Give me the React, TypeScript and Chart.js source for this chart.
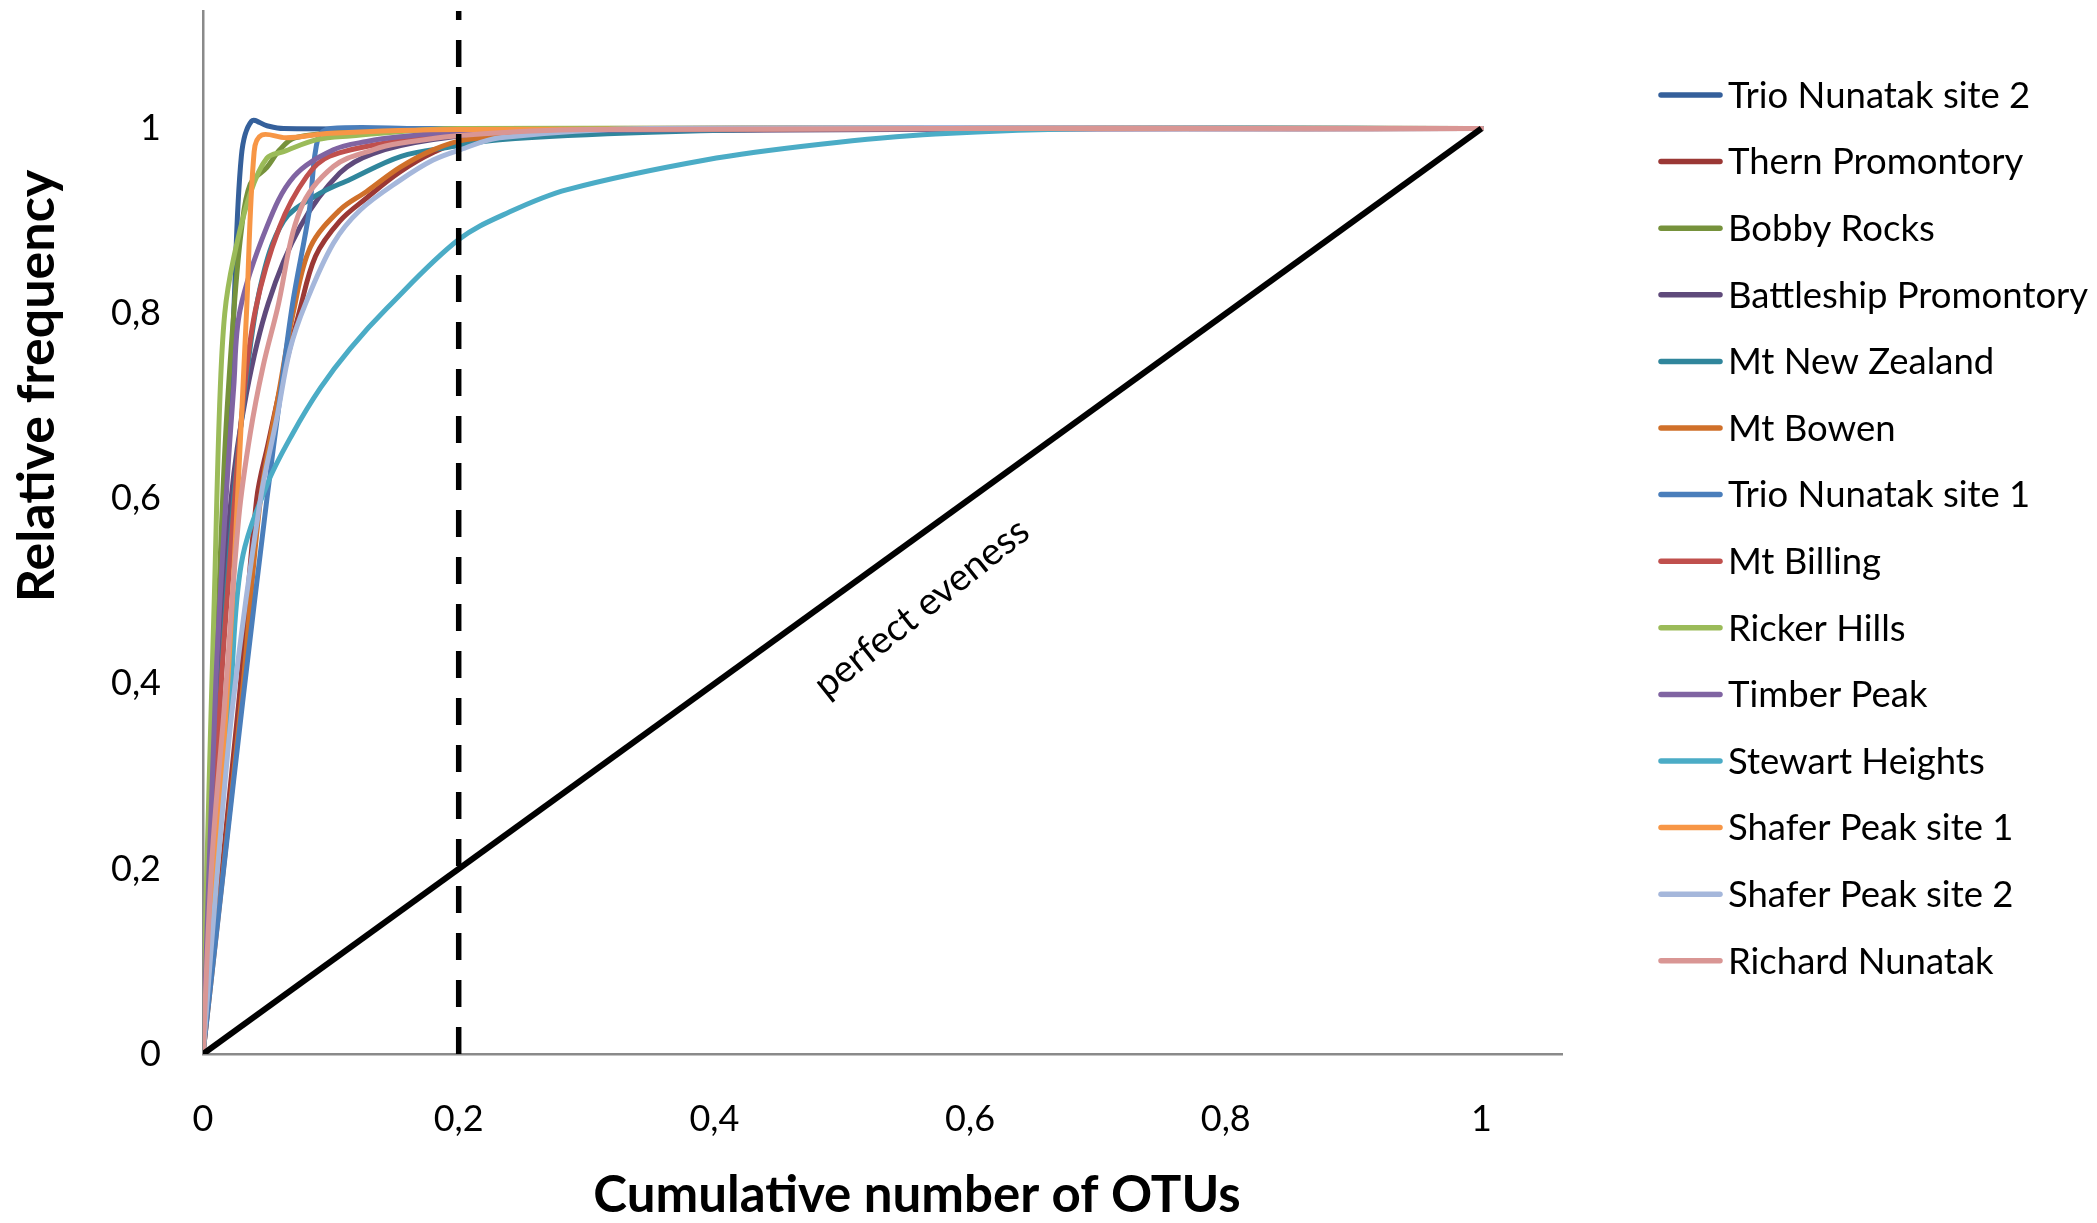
import React, { useEffect, useRef } from 'react';
import { Chart, registerables } from 'chart.js';

Chart.register(...registerables);

// ---- data ----
const seriesNames = [
  'Trio Nunatak site 2',
  'Thern Promontory',
  'Bobby Rocks',
  'Battleship Promontory',
  'Mt New Zealand',
  'Mt Bowen',
  'Trio Nunatak site 1',
  'Mt Billing',
  'Ricker Hills',
  'Timber Peak',
  'Stewart Heights',
  'Shafer Peak site 1',
  'Shafer Peak site 2',
  'Richard Nunatak',
];

const seriesColors = [
  '#35609B',
  '#9B3835',
  '#76923C',
  '#5F4A7B',
  '#30869C',
  '#D0702A',
  '#4A7EBB',
  '#C0504D',
  '#9BBB59',
  '#8064A2',
  '#4BACC6',
  '#F79646',
  '#A5B7DB',
  '#D99694',
];

type Pt = [number, number];

const trioNunatakSite2: Pt[] = [[0, 0], [0.008, 0.28], [0.016, 0.55], [0.024, 0.8], [0.03, 0.97], [0.038, 1.008], [0.05, 1.003], [0.063, 1.0], [0.2, 1.0], [1, 1]];
const thernPromontory: Pt[] = [[0, 0], [0.028, 0.38], [0.042, 0.6], [0.051, 0.66], [0.063, 0.735], [0.075, 0.8], [0.088, 0.862], [0.107, 0.9], [0.128, 0.925], [0.154, 0.953], [0.18, 0.974], [0.206, 0.987], [0.3, 0.998], [1, 1]];
const bobbyRocks: Pt[] = [[0, 0], [0.01, 0.4], [0.017, 0.65], [0.024, 0.8], [0.03, 0.89], [0.037, 0.94], [0.05, 0.958], [0.06, 0.977], [0.072, 0.99], [0.12, 0.997], [0.2, 1], [1, 1]];
const battleshipPromontory: Pt[] = [[0, 0], [0.012, 0.4], [0.022, 0.6], [0.034, 0.714], [0.051, 0.811], [0.076, 0.894], [0.107, 0.952], [0.133, 0.973], [0.18, 0.988], [0.25, 0.997], [1, 1]];
const mtNewZealand: Pt[] = [[0, 0], [0.014, 0.4], [0.024, 0.6], [0.033, 0.72], [0.045, 0.83], [0.063, 0.9], [0.089, 0.928], [0.115, 0.945], [0.155, 0.97], [0.193, 0.98], [0.232, 0.988], [0.35, 0.996], [0.5, 1], [1, 1]];
const mtBowen: Pt[] = [[0, 0], [0.03, 0.38], [0.045, 0.6], [0.06, 0.72], [0.071, 0.804], [0.084, 0.872], [0.107, 0.912], [0.128, 0.932], [0.154, 0.958], [0.18, 0.977], [0.206, 0.988], [0.3, 0.999], [1, 1]];
const trioNunatakSite1: Pt[] = [[0, 0], [0.017, 0.21], [0.031, 0.38], [0.05, 0.6], [0.06, 0.707], [0.07, 0.81], [0.083, 0.91], [0.09, 0.99], [0.1, 1], [0.17, 1], [1, 1]];
const mtBilling: Pt[] = [[0, 0], [0.012, 0.35], [0.022, 0.55], [0.031, 0.7], [0.041, 0.804], [0.06, 0.894], [0.081, 0.948], [0.099, 0.97], [0.15, 0.986], [0.2, 0.995], [0.3, 1], [1, 1]];
const rickerHills: Pt[] = [[0, 0], [0.003, 0.2], [0.009, 0.5], [0.013, 0.7], [0.017, 0.8], [0.024, 0.86], [0.037, 0.93], [0.05, 0.968], [0.063, 0.975], [0.089, 0.988], [0.115, 0.992], [0.2, 1], [1, 1]];
const timberPeak: Pt[] = [[0, 0], [0.01, 0.4], [0.018, 0.6], [0.024, 0.72], [0.029, 0.804], [0.05, 0.894], [0.071, 0.948], [0.102, 0.977], [0.128, 0.986], [0.154, 0.991], [0.22, 0.998], [1, 1]];
const stewartHeights: Pt[] = [[0, 0], [0.008, 0.2], [0.021, 0.38], [0.03, 0.53], [0.05, 0.615], [0.07, 0.67], [0.092, 0.72], [0.115, 0.762], [0.144, 0.806], [0.2, 0.88], [0.24, 0.91], [0.285, 0.934], [0.393, 0.966], [0.483, 0.983], [0.573, 0.994], [0.7, 1.0], [1, 1]];
const shaferPeakSite1: Pt[] = [[0, 0], [0.0185, 0.38], [0.027, 0.6], [0.034, 0.8], [0.04, 0.975], [0.046, 0.993], [0.065, 0.99], [0.1, 0.995], [0.2, 0.999], [1, 1]];
const shaferPeakSite2: Pt[] = [[0, 0], [0.012, 0.21], [0.0235, 0.38], [0.045, 0.6], [0.058, 0.689], [0.068, 0.761], [0.08, 0.81], [0.102, 0.876], [0.123, 0.912], [0.154, 0.944], [0.18, 0.966], [0.201, 0.977], [0.232, 0.99], [0.35, 1], [1, 1]];
const richardNunatak: Pt[] = [[0, 0], [0.007, 0.21], [0.017, 0.38], [0.028, 0.58], [0.037, 0.671], [0.047, 0.743], [0.058, 0.804], [0.076, 0.912], [0.102, 0.959], [0.133, 0.977], [0.154, 0.984], [0.206, 0.993], [0.3, 0.999], [1, 1]];

const seriesPoints: Pt[][] = [
  trioNunatakSite2, thernPromontory, bobbyRocks, battleshipPromontory, mtNewZealand,
  mtBowen, trioNunatakSite1, mtBilling, rickerHills, timberPeak, stewartHeights,
  shaferPeakSite1, shaferPeakSite2, richardNunatak,
];

const evennessLine: Pt[] = [[0, 0], [1, 1]];
const cutoffX = 0.2;
const xMax = 1.063;
const yMax = 1.127;
const tickStep = 0.2;

const xTitle = 'Cumulative number of OTUs';
const yTitle = 'Relative frequency';
const evennessLabel = 'perfect eveness';
const evennessLabelAt: Pt = [0.562, 0.482];

const FONT = 'Lato, "Open Sans", sans-serif';

const fmt = (v: number) => {
  const r = Math.round(v * 10) / 10;
  return String(r).replace('.', ',');
};

const overlayPlugin = {
  id: 'overlay',
  afterDraw(chart: any) {
    const ctx = chart.ctx as CanvasRenderingContext2D;
    const xs = chart.scales.x;
    const ys = chart.scales.y;
    ctx.save();

    // legend
    ctx.font = `36.5px ${FONT}`;
    ctx.textBaseline = 'middle';
    ctx.textAlign = 'left';
    ctx.lineCap = 'round';
    seriesNames.forEach((name, i) => {
      const cy = 95 + i * 66.6;
      ctx.strokeStyle = seriesColors[i];
      ctx.lineWidth = 5.5;
      ctx.beginPath();
      ctx.moveTo(1661, cy);
      ctx.lineTo(1720, cy);
      ctx.stroke();
      ctx.fillStyle = '#000';
      ctx.fillText(name, 1728, cy + 1);
    });

    // axis titles
    ctx.fillStyle = '#000';
    ctx.font = `bold 51px ${FONT}`;
    ctx.textAlign = 'center';
    ctx.textBaseline = 'middle';
    ctx.fillText(xTitle, 917, 1196);
    ctx.font = `bold 52px ${FONT}`;
    ctx.save();
    ctx.translate(37, 386);
    ctx.rotate(-Math.PI / 2);
    ctx.fillText(yTitle, 0, 0);
    ctx.restore();

    // evenness label
    const px = xs.getPixelForValue(evennessLabelAt[0]);
    const py = ys.getPixelForValue(evennessLabelAt[1]);
    ctx.save();
    ctx.translate(px, py);
    ctx.rotate((-38.5 * Math.PI) / 180);
    ctx.font = `38px ${FONT}`;
    ctx.fillText(evennessLabel, 0, 0);
    ctx.restore();

    ctx.restore();
  },
};

export default function App() {
  const canvasRef = useRef<HTMLCanvasElement | null>(null);

  useEffect(() => {
    document.body.style.margin = '0';
    const canvas = canvasRef.current;
    if (!canvas) return;

    const datasets: any[] = seriesPoints.map((pts, i) => ({
      label: seriesNames[i],
      data: pts.map(([x, y]) => ({ x, y })),
      borderColor: seriesColors[i],
      backgroundColor: seriesColors[i],
      borderWidth: 5,
      pointRadius: 0,
      tension: 0.35,
      fill: false,
      order: 30 - i,
      borderCapStyle: 'round',
      borderJoinStyle: 'round',
    }));
    datasets.push({
      label: 'perfect evenness',
      data: evennessLine.map(([x, y]) => ({ x, y })),
      borderColor: '#000',
      borderWidth: 6,
      pointRadius: 0,
      tension: 0,
      order: 2,
    });
    datasets.push({
      label: 'cutoff',
      data: [{ x: cutoffX, y: 0 }, { x: cutoffX, y: yMax }],
      borderColor: '#000',
      borderWidth: 5.5,
      borderDash: [27, 20],
      pointRadius: 0,
      tension: 0,
      order: 1,
    });

    const chart = new Chart(canvas, {
      type: 'line',
      data: { datasets },
      options: {
        animation: false,
        responsive: false,
        devicePixelRatio: 1,
        layout: { padding: { left: 0, top: 11, right: 535, bottom: 0 } },
        plugins: {
          legend: { display: false },
          tooltip: { enabled: false },
          title: { display: false },
        },
        events: [],
        scales: {
          x: {
            type: 'linear',
            min: 0,
            max: xMax,
            grid: { display: false, drawTicks: false },
            border: { display: true, color: '#8a8a8a', width: 2.5 },
            ticks: {
              stepSize: tickStep,
              includeBounds: false,
              padding: 44,
              maxRotation: 0,
              color: '#000',
              font: { family: FONT, size: 36 },
              callback: (v: any) => fmt(Number(v)),
            },
            afterFit: (s: any) => {
              s.height = 169;
              s.paddingLeft = 0;
              s.paddingRight = 0;
            },
          },
          y: {
            type: 'linear',
            min: 0,
            max: yMax,
            grid: { display: false, drawTicks: false },
            border: { display: true, color: '#8a8a8a', width: 2.5 },
            ticks: {
              stepSize: tickStep,
              includeBounds: false,
              padding: 42,
              color: '#000',
              font: { family: FONT, size: 36 },
              callback: (v: any) => fmt(Number(v)),
            },
            afterFit: (s: any) => {
              s.width = 203;
              s.paddingTop = 0;
              s.paddingBottom = 0;
            },
          },
        },
      } as any,
      plugins: [overlayPlugin],
    });

    return () => chart.destroy();
  }, []);

  return (
    <div style={{ position: 'relative', width: 2097, height: 1223, background: '#fff' }}>
      <canvas ref={canvasRef} width={2097} height={1223} style={{ display: 'block', width: 2097, height: 1223 }} />
    </div>
  );
}
